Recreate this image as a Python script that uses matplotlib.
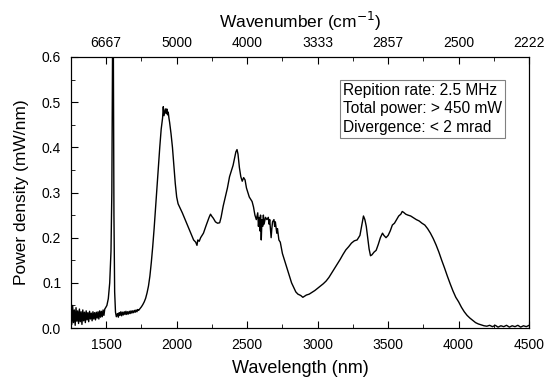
import matplotlib.pyplot as plt
import numpy as np

plt.rcParams['font.family'] = ['Liberation Sans', 'DejaVu Sans']

# Spectrum (wavelength in nm, power density in mW/nm)
wavelength = [
    1250, 1256, 1262, 1268, 1274, 1280, 1286, 1292, 1298, 1304, 1310, 1316, 1322, 1328,
    1334, 1340, 1346, 1352, 1358, 1364, 1370, 1376, 1382, 1388, 1394, 1400, 1406, 1412,
    1418, 1424, 1430, 1436, 1442, 1448, 1454, 1460, 1466, 1472, 1478, 1484, 1490,
    1496, 1505, 1515, 1525, 1534, 1540, 1545, 1548, 1551, 1555, 1560, 1566, 1572,
    1580, 1586, 1592, 1598, 1604, 1610, 1616, 1622, 1628, 1634, 1640, 1646, 1652, 1658,
    1664, 1670, 1676, 1682, 1688, 1694, 1700, 1706, 1712, 1718, 1724, 1730, 1740, 1750,
    1760, 1770, 1780, 1790, 1800, 1810, 1820, 1830, 1840, 1850, 1860, 1870, 1880, 1890,
    1900, 1905, 1910, 1920, 1925, 1930, 1935, 1940, 1945, 1950, 1960, 1970, 1980, 1990,
    2000, 2010, 2025, 2040, 2060, 2080, 2100, 2120, 2135, 2144, 2150, 2160, 2170, 2190,
    2210, 2230, 2240, 2250, 2260, 2275, 2290, 2305, 2315, 2330, 2345, 2360, 2375, 2390,
    2400, 2410, 2420, 2428, 2435, 2445, 2455, 2465, 2475, 2485, 2495, 2505, 2515, 2525,
    2535, 2545, 2555, 2565, 2575, 2580, 2585, 2590, 2595, 2600, 2605, 2610, 2615, 2620,
    2630, 2640, 2650, 2655, 2660, 2670, 2675, 2680, 2690, 2695, 2700, 2710, 2715, 2725,
    2735, 2750, 2765, 2780, 2800, 2815, 2830, 2845, 2860, 2880, 2895, 2905, 2920, 2940,
    2960, 2980, 3000, 3020, 3040, 3060, 3080, 3100, 3120, 3140, 3160, 3180, 3200, 3220,
    3240, 3260, 3280, 3300, 3315, 3325, 3335, 3345, 3355, 3365, 3375, 3385, 3400, 3415,
    3430, 3445, 3460, 3470, 3485, 3500, 3515, 3530, 3545, 3560, 3575, 3590, 3600, 3610,
    3625, 3640, 3660, 3680, 3700, 3720, 3740, 3760, 3780, 3800, 3820, 3840, 3860, 3880,
    3900, 3920, 3940, 3960, 3980, 4000, 4020, 4040, 4060, 4080, 4100, 4120, 4140, 4160,
    4180, 4200, 4220, 4240, 4260, 4280, 4300, 4320, 4340, 4360, 4380, 4400, 4420, 4440,
    4460, 4480, 4500,
]
power = [
    0.045, 0.008, 0.050, 0.012, 0.040, 0.006, 0.045, 0.015, 0.038, 0.010, 0.042, 0.014, 0.036, 0.008,
    0.040, 0.016, 0.035, 0.012, 0.038, 0.018, 0.034, 0.014, 0.037, 0.020, 0.033, 0.016, 0.036, 0.020,
    0.034, 0.018, 0.035, 0.022, 0.036, 0.020, 0.038, 0.024, 0.037, 0.025, 0.040, 0.028, 0.042,
    0.045, 0.050, 0.065, 0.100, 0.170, 0.300, 0.600, 0.800, 0.600, 0.250, 0.080, 0.035, 0.025,
    0.032, 0.024, 0.034, 0.028, 0.036, 0.027, 0.035, 0.029, 0.036, 0.030, 0.037, 0.030, 0.036, 0.031,
    0.037, 0.032, 0.038, 0.033, 0.038, 0.034, 0.039, 0.035, 0.040, 0.036, 0.041, 0.039, 0.043, 0.047,
    0.052, 0.058, 0.066, 0.078, 0.093, 0.115, 0.145, 0.180, 0.220, 0.265, 0.310, 0.355, 0.400, 0.440,
    0.465, 0.490, 0.470, 0.485, 0.475, 0.485, 0.472, 0.478, 0.465, 0.455, 0.430, 0.400, 0.360, 0.320,
    0.290, 0.275, 0.265, 0.255, 0.240, 0.225, 0.210, 0.195, 0.190, 0.183, 0.195, 0.192, 0.200, 0.210,
    0.228, 0.245, 0.252, 0.247, 0.243, 0.235, 0.232, 0.233, 0.245, 0.270, 0.290, 0.310, 0.335, 0.350,
    0.360, 0.375, 0.390, 0.395, 0.385, 0.355, 0.335, 0.325, 0.333, 0.328, 0.310, 0.300, 0.290, 0.285,
    0.280, 0.268, 0.250, 0.240, 0.255, 0.225, 0.245, 0.215, 0.250, 0.195, 0.240, 0.225, 0.250, 0.230,
    0.245, 0.240, 0.245, 0.230, 0.240, 0.200, 0.220, 0.235, 0.240, 0.225, 0.235, 0.210, 0.220, 0.195,
    0.190, 0.165, 0.150, 0.135, 0.115, 0.100, 0.090, 0.080, 0.075, 0.072, 0.068, 0.070, 0.073, 0.075,
    0.079, 0.083, 0.088, 0.093, 0.098, 0.104, 0.112, 0.122, 0.132, 0.142, 0.152, 0.163, 0.173, 0.180,
    0.188, 0.193, 0.195, 0.205, 0.230, 0.248, 0.240, 0.225, 0.200, 0.175, 0.160, 0.162, 0.168, 0.172,
    0.185, 0.200, 0.210, 0.205, 0.200, 0.205, 0.215, 0.228, 0.232, 0.240, 0.248, 0.252, 0.258, 0.256,
    0.252, 0.250, 0.248, 0.244, 0.240, 0.237, 0.232, 0.228, 0.220, 0.210, 0.198, 0.184, 0.168, 0.150,
    0.133, 0.115, 0.098, 0.082, 0.068, 0.058, 0.046, 0.036, 0.028, 0.022, 0.017, 0.012, 0.009, 0.007,
    0.005, 0.004, 0.006, 0.003, 0.006, 0.002, 0.005, 0.003, 0.006, 0.002, 0.005, 0.003, 0.006, 0.002,
    0.005, 0.003, 0.006,
]

top_ticks = [1500, 2000, 2500, 3000, 3500, 4000, 4500]
top_labels = ['6667', '5000', '4000', '3333', '2857', '2500', '2222']
info = 'Repition rate: 2.5 MHz\nTotal power: > 450 mW\nDivergence: < 2 mrad'

fig = plt.figure(figsize=(5.5, 3.85), dpi=100)
ax = fig.add_axes([0.129, 0.148, 0.833, 0.704])
ax.plot(wavelength, power, color='black', lw=1.0)
ax.set_xlim(1250, 4500)
ax.set_ylim(0, 0.6)
ax.set_xticks(np.arange(1500, 4501, 500))
ax.set_xticks(np.arange(1250, 4501, 250), minor=True)
ax.set_yticks(np.arange(0, 0.61, 0.1))
ax.set_yticks(np.arange(0, 0.61, 0.05), minor=True)
ax.yaxis.set_major_formatter(plt.FormatStrFormatter('%.1f'))
ax.tick_params(which='both', direction='in', labelsize=10, top=False, right=False, pad=7)
ax.tick_params(which='major', length=5)
ax.tick_params(which='minor', length=3)
ax.set_xlabel('Wavelength (nm)', fontsize=13, labelpad=6)
ax.set_ylabel('Power density (mW/nm)', fontsize=12.5, labelpad=9)

top = ax.twiny()
top.set_xlim(ax.get_xlim())
top.set_xticks(top_ticks)
top.set_xticklabels(top_labels)
top.set_xticks(np.arange(1250, 4501, 250), minor=True)
top.tick_params(which='both', direction='in', labelsize=10, pad=5)
top.tick_params(which='major', length=5)
top.tick_params(which='minor', length=3)
top.set_xlabel('Wavenumber (cm$^{-1}$)', fontsize=12.5, labelpad=6)

ax.text(0.594, 0.905, info, transform=ax.transAxes, fontsize=11.2, va='top', ha='left',
        linespacing=1.3,
        bbox=dict(boxstyle='square,pad=0.2', facecolor='white', edgecolor='#808080', lw=0.8))

fig.savefig('out.png', dpi=100)
